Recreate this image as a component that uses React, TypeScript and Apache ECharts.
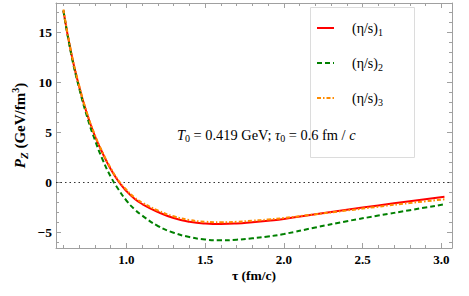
import React, { useEffect, useRef } from "react";
import * as echarts from "echarts";

const tau = [0.6, 0.65, 0.7, 0.75, 0.8, 0.85, 0.9, 0.95, 1.0, 1.05, 1.1, 1.2, 1.3, 1.4, 1.5, 1.6, 1.7, 1.8, 1.9, 2.0, 2.2, 2.4, 2.6, 2.8, 3.02];
const pz1 = [17.2, 12.9, 9.6, 6.85, 4.65, 2.9, 1.35, 0.1, -0.85, -1.6, -2.15, -2.95, -3.55, -3.92, -4.1, -4.15, -4.1, -3.97, -3.82, -3.65, -3.18, -2.72, -2.29, -1.87, -1.42];
const pz2 = [17.2, 12.8, 9.45, 6.6, 4.25, 2.25, 0.6, -0.7, -1.8, -2.65, -3.3, -4.35, -5.02, -5.45, -5.7, -5.78, -5.72, -5.58, -5.4, -5.15, -4.5, -3.87, -3.31, -2.77, -2.18];
const pz3 = [17.3, 13.0, 9.7, 6.95, 4.75, 2.98, 1.45, 0.2, -0.72, -1.48, -2.0, -2.8, -3.38, -3.75, -3.92, -3.97, -3.93, -3.82, -3.7, -3.55, -3.18, -2.8, -2.42, -2.05, -1.68];

const seriesNames = ["(η/s){s|1}", "(η/s){s|2}", "(η/s){s|3}"];
const xMajor = [1.0, 1.5, 2.0, 2.5, 3.0];
const xMinor = [0.6, 0.7, 0.8, 0.9, 1.1, 1.2, 1.3, 1.4, 1.6, 1.7, 1.8, 1.9, 2.1, 2.2, 2.3, 2.4, 2.6, 2.7, 2.8, 2.9];
const yMajor = [-5, 0, 5, 10, 15];
const yMinor = [-6, -4, -3, -2, -1, 1, 2, 3, 4, 6, 7, 8, 9, 11, 12, 13, 14, 16, 17];

const SERIF = "'Liberation Serif', 'DejaVu Serif', serif";
const FRAME = "#a0a0a0";

export default function App() {
  const ref = useRef<HTMLDivElement>(null);
  useEffect(() => {
    if (!ref.current) return;
    const chart = echarts.init(ref.current, undefined, { renderer: "svg" });
    const xMin = 0.553, xMax = 3.068, yMin = -6.55, yMax = 17.95;
    const mkX = (pos: string, ticks: number[], len: number, labels: boolean, line: boolean, name?: string) => ({
      type: "value", min: xMin, max: xMax, position: pos,
      axisLine: { show: line, onZero: false, lineStyle: { color: FRAME, width: 1 } },
      axisTick: { show: true, inside: true, length: len, customValues: ticks, lineStyle: { color: FRAME } },
      axisLabel: labels ? {
        show: true, customValues: xMajor, margin: 5,
        formatter: (v: number) => v.toFixed(1),
        fontFamily: SERIF, fontWeight: "bold", fontSize: 13, color: "#000",
      } : { show: false },
      splitLine: { show: false },
      name: name || "", nameLocation: "middle", nameGap: 20, nameMoveOverlap: false,
      nameTextStyle: { fontFamily: SERIF, fontWeight: "bold", fontSize: 13.5, color: "#000" },
    });
    const mkY = (pos: string, ticks: number[], len: number, labels: boolean, line: boolean, name?: string) => ({
      type: "value", min: yMin, max: yMax, position: pos,
      axisLine: { show: line, onZero: false, lineStyle: { color: FRAME, width: 1 } },
      axisTick: { show: true, inside: true, length: len, customValues: ticks, lineStyle: { color: FRAME } },
      axisLabel: labels ? {
        show: true, customValues: yMajor, margin: 4,
        formatter: (v: number) => (v < 0 ? "\u2212" + Math.abs(v) : String(v)),
        fontFamily: SERIF, fontWeight: "bold", fontSize: 13.5, color: "#000",
      } : { show: false },
      splitLine: { show: false },
      name: name || "", nameLocation: "middle", nameGap: 27, nameRotate: 90, nameMoveOverlap: false,
      nameTextStyle: {
        fontFamily: SERIF, fontWeight: "bold", fontSize: 15, color: "#000",
        rich: {
          i: { fontFamily: SERIF, fontWeight: "bold", fontStyle: "italic", fontSize: 15, color: "#000" },
          sub: { fontFamily: SERIF, fontWeight: "bold", fontStyle: "italic", fontSize: 11, color: "#000", padding: [8, 0, 0, 0] },
          sup: { fontFamily: SERIF, fontWeight: "bold", fontSize: 10, color: "#000", padding: [0, 0, 8, 0] },
          n: { fontFamily: SERIF, fontWeight: "bold", fontSize: 15, color: "#000" },
        },
      },
    });
    const data = (ys: number[]) => tau.map((t, i) => [t, ys[i]]);
    const option: any = {
      animation: false,
      backgroundColor: "#fff",
      grid: { left: 56, top: 3, right: 17, bottom: 48, containLabel: false },
      xAxis: [
        mkX("bottom", xMajor, 5, true, true, "τ (fm/c)"),
        mkX("bottom", xMinor, 3, false, false),
        mkX("top", xMajor, 5, false, true),
        mkX("top", xMinor, 3, false, false),
      ],
      yAxis: [
        mkY("left", yMajor, 5, true, true, "{i|P}{sub|Z}{n| (GeV/fm}{sup|3}{n|)}"),
        mkY("left", yMinor, 3, false, false),
        mkY("right", yMajor, 5, false, true),
        mkY("right", yMinor, 3, false, false),
      ],
      legend: {
        orient: "vertical", left: 316, top: 21, itemGap: 19, padding: 0,
        itemWidth: 17, itemHeight: 16,
        itemStyle: { opacity: 0 },
        textStyle: {
          fontFamily: SERIF, fontSize: 14, color: "#000", padding: [0, 0, 0, 13],
          rich: { s: { fontFamily: SERIF, fontSize: 10, color: "#000", padding: [8, 0, 0, 0] } },
        },
        data: seriesNames,
        z: 20,
      },
      graphic: [
        { type: "rect", z: 1, shape: { x: 310.5, y: 7.5, width: 104, height: 150 }, style: { fill: "#fff", stroke: "#dcdcdc", lineWidth: 1 } },
        {
          type: "text", z: 30, x: 177, y: 135,
          style: {
            text: "{i|T}{s|0}{n| = 0.419 GeV; }{i|τ}{s|0}{n| = 0.6 fm / }{i|c}",
            verticalAlign: "middle",
            rich: {
              i: { fontFamily: SERIF, fontStyle: "italic", fontSize: 14.4, fill: "#000" },
              n: { fontFamily: SERIF, fontSize: 14.4, fill: "#000" },
              s: { fontFamily: SERIF, fontSize: 10, fill: "#000", padding: [7, 0, 0, 0] },
            },
          },
        },
      ],
      series: [
        {
          name: seriesNames[0], type: "line", data: data(pz1), symbol: "none", smooth: true, z: 3,
          lineStyle: { color: "#ff0000", width: 2, type: "solid" }, itemStyle: { color: "#ff0000" },
          markLine: {
            silent: true, symbol: "none", label: { show: false },
            lineStyle: { color: "#333", width: 1, type: [1.5, 3] },
            data: [{ yAxis: 0 }],
          },
        },
        {
          name: seriesNames[1], type: "line", data: data(pz2), symbol: "none", smooth: true, z: 4,
          lineStyle: { color: "#008000", width: 2, type: [5, 3] }, itemStyle: { color: "#008000" },
        },
        {
          name: seriesNames[2], type: "line", data: data(pz3), symbol: "none", smooth: true, z: 5,
          lineStyle: { color: "#ff8c00", width: 2, type: [4, 2, 1.5, 2] }, itemStyle: { color: "#ff8c00" },
        },
      ],
    };
    chart.setOption(option);
    return () => chart.dispose();
  }, []);
  return <div ref={ref} style={{ position: "fixed", left: 0, top: 0, width: 469, height: 296 }} />;
}
